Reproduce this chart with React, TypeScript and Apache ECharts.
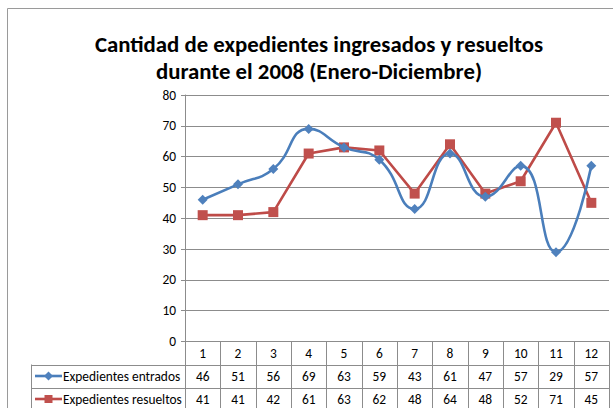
import React, { useEffect, useRef } from "react";
import * as echarts from "echarts";

const months = ["1", "2", "3", "4", "5", "6", "7", "8", "9", "10", "11", "12"];
const entrados = [46, 51, 56, 69, 63, 59, 43, 61, 47, 57, 29, 57];
const resueltos = [41, 41, 42, 61, 63, 62, 48, 64, 48, 52, 71, 45];
const seriesNames = ["Expedientes entrados", "Expedientes resueltos"];
const titleLines = [
  "Cantidad de expedientes ingresados y resueltos",
  "durante el 2008 (Enero-Diciembre)",
];
const yMin = 0;
const yMax = 80;
const yInterval = 10;

const BLUE = "#4A7EBB";
const BLUE_M = "#4F81BD";
const RED = "#BE4B48";
const RED_M = "#C0504D";
const GRID = "#8c8c8c";
const FONT = "Carlito, Calibri, 'Open Sans', sans-serif";
const SMALL = 13.4;
const BIG = 22.8;

export default function App() {
  const ref = useRef<HTMLDivElement>(null);
  useEffect(() => {
    if (!ref.current) return;
    const chart = echarts.init(ref.current, undefined, { renderer: "svg" });
    chart.setOption({
      animation: false,
      backgroundColor: "#ffffff",
      grid: { left: 185, right: 4, top: 95, bottom: 66.5, containLabel: false },
      xAxis: {
        type: "category",
        data: months,
        boundaryGap: true,
        axisLine: { show: true, lineStyle: { color: GRID, width: 1 } },
        axisTick: { show: false },
        axisLabel: { show: false },
        splitLine: { show: false },
      },
      yAxis: {
        type: "value",
        min: yMin,
        max: yMax,
        interval: yInterval,
        axisLine: { show: true, lineStyle: { color: GRID, width: 1 } },
        axisTick: { show: true, length: 4, lineStyle: { color: GRID } },
        axisLabel: { color: "#000", fontSize: SMALL, fontFamily: FONT, margin: 9 },
        splitLine: { show: true, lineStyle: { color: GRID, width: 1 } },
      },
      series: [
        {
          name: seriesNames[0],
          type: "line",
          data: entrados,
          smooth: 0.5,
          symbol: "diamond",
          symbolSize: 10,
          itemStyle: { color: BLUE_M },
          lineStyle: { color: BLUE, width: 2.6 },
          z: 3,
        },
        {
          name: seriesNames[1],
          type: "line",
          data: resueltos,
          smooth: false,
          symbol: "rect",
          symbolSize: 10,
          itemStyle: { color: RED_M },
          lineStyle: { color: RED, width: 2.6 },
          z: 2,
        },
      ],
    });

    const rowH = 23;
    const yBase = chart.convertToPixel({ yAxisIndex: 0 }, 0) as number;
    const centers = months.map((_, i) => chart.convertToPixel({ xAxisIndex: 0 }, i) as number);
    const colW = centers[1] - centers[0];
    const left = centers[0] - colW / 2;
    const right = centers[centers.length - 1] + colW / 2;
    const labelLeft = 31;
    const g: any[] = [];
    const lineStyle = { stroke: GRID, lineWidth: 1 };
    g.push({
      type: "rect",
      shape: { x: 7.5, y: 8.5, width: 700, height: 500 },
      style: { fill: "none", stroke: "#9a9a9a", lineWidth: 1 },
      z: 0,
      silent: true,
    });
    titleLines.forEach((t, i) => {
      g.push({
        type: "text",
        x: 319,
        y: 44 + i * 27,
        style: {
          text: t,
          fill: "#000",
          font: `bold ${BIG}px ${FONT}`,
          textAlign: "center",
          textVerticalAlign: "middle",
        },
      });
    });
    for (let i = 0; i <= months.length; i++) {
      const x = Math.round(left + i * colW) + 0.5;
      g.push({ type: "line", shape: { x1: x, y1: yBase, x2: x, y2: yBase + rowH * 3 }, style: lineStyle });
    }
    for (let r = 1; r <= 3; r++) {
      const y = Math.round(yBase + r * rowH) + 0.5;
      g.push({ type: "line", shape: { x1: labelLeft, y1: y, x2: right, y2: y }, style: lineStyle });
    }
    g.push({ type: "line", shape: { x1: labelLeft + 0.5, y1: yBase + rowH, x2: labelLeft + 0.5, y2: yBase + rowH * 3 }, style: lineStyle });
    months.forEach((m, i) => {
      g.push({
        type: "text",
        x: centers[i],
        y: yBase + rowH / 2,
        style: { text: m, fill: "#000", font: `${SMALL}px ${FONT}`, textAlign: "center", textVerticalAlign: "middle" },
      });
    });
    const rows = [entrados, resueltos];
    rows.forEach((vals, r) => {
      const cy = yBase + rowH * (r + 1) + rowH / 2;
      vals.forEach((v, i) => {
        g.push({
          type: "text",
          x: centers[i],
          y: cy,
          style: { text: String(v), fill: "#000", font: `${SMALL}px ${FONT}`, textAlign: "center", textVerticalAlign: "middle" },
        });
      });
      const color = r === 0 ? BLUE : RED;
      const mcolor = r === 0 ? BLUE_M : RED_M;
      g.push({ type: "line", shape: { x1: 35, y1: cy, x2: 62, y2: cy }, style: { stroke: color, lineWidth: 2.6 } });
      if (r === 0) {
        g.push({
          type: "polygon",
          shape: { points: [[48.5, cy - 4.5], [53, cy], [48.5, cy + 4.5], [44, cy]] },
          style: { fill: mcolor },
        });
      } else {
        g.push({ type: "rect", shape: { x: 44.5, y: cy - 4, width: 8, height: 8 }, style: { fill: mcolor } });
      }
      g.push({
        type: "text",
        x: 63,
        y: cy,
        style: { text: seriesNames[r], fill: "#000", font: `${SMALL}px ${FONT}`, textAlign: "left", textVerticalAlign: "middle" },
      });
    });
    chart.setOption({ graphic: g });
    return () => chart.dispose();
  }, []);
  return (
    <div
      ref={ref}
      style={{ position: "fixed", left: 0, top: 0, width: 613, height: 408 }}
    />
  );
}
